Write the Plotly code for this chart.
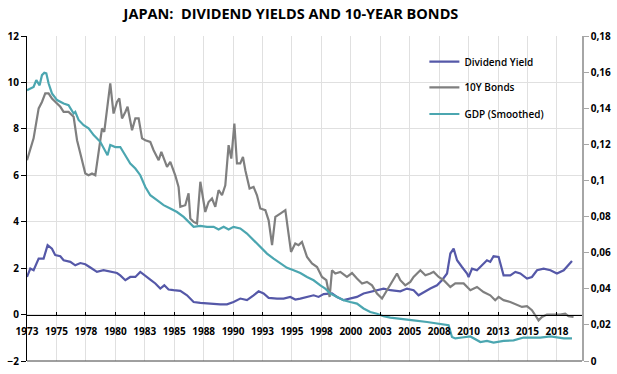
import plotly.graph_objects as go

# ---- data ----
div_year = [1973.00, 1973.28, 1973.56, 1973.99, 1974.41, 1974.75, 1975.12, 1975.40, 1975.83, 1976.11,
            1976.68, 1977.10, 1977.53, 1977.95, 1978.38, 1978.94, 1979.50, 1980.07, 1980.64, 1980.92,
            1981.35, 1981.77, 1982.20, 1982.62, 1983.05, 1983.47, 1983.90, 1984.32, 1984.66, 1985.02,
            1985.45, 1986.02, 1986.59, 1987.15, 1987.72, 1988.29, 1988.85, 1989.41, 1989.98, 1990.54,
            1991.11, 1991.68, 1992.24, 1992.67, 1993.09, 1993.52, 1994.23, 1994.79, 1995.36, 1995.78,
            1996.21, 1996.78, 1997.34, 1997.76, 1998.19, 1998.90, 1999.32, 1999.89, 2000.45, 2001.02,
            2001.58, 2002.15, 2002.72, 2003.28, 2003.85, 2004.70, 2005.27, 2005.83, 2006.25, 2006.68,
            2007.25, 2007.82, 2008.24, 2008.67, 2008.95, 2009.23, 2009.52, 2009.94, 2010.37, 2010.50,
            2010.79, 2011.21, 2011.64, 2012.06, 2012.34, 2012.62, 2013.05, 2013.47, 2014.04, 2014.47,
            2014.89, 2015.46, 2015.88, 2016.31, 2016.87, 2017.45, 2018.00, 2018.58, 2019.28]
div_yield = [1.62, 1.98, 1.91, 2.41, 2.41, 2.99, 2.84, 2.56, 2.51, 2.34,
             2.27, 2.12, 2.22, 2.17, 2.03, 1.84, 1.91, 1.84, 1.79, 1.69,
             1.48, 1.62, 1.62, 1.84, 1.69, 1.51, 1.34, 1.12, 1.26, 1.08,
             1.05, 1.02, 0.83, 0.54, 0.50, 0.47, 0.47, 0.44, 0.44, 0.54,
             0.69, 0.62, 0.83, 1.00, 0.91, 0.72, 0.69, 0.69, 0.76, 0.65,
             0.69, 0.76, 0.83, 0.76, 0.88, 0.91, 0.76, 0.62, 0.69, 0.76,
             0.91, 0.97, 1.05, 1.12, 1.05, 1.00, 1.12, 1.05, 0.83, 0.97,
             1.12, 1.26, 1.48, 1.77, 2.63, 2.84, 2.34, 2.05, 1.77, 1.62,
             1.98, 1.91, 2.12, 2.34, 2.27, 2.51, 2.48, 1.69, 1.69, 1.84,
             1.77, 1.55, 1.62, 1.91, 1.98, 1.91, 1.77, 1.91, 2.31]

bond_year = [1973.00, 1973.56, 1973.99, 1974.27, 1974.55, 1974.83, 1975.12, 1975.40, 1975.83, 1976.11,
             1976.53, 1976.96, 1977.25, 1977.53, 1977.95, 1978.23, 1978.52, 1978.80, 1979.08, 1979.37,
             1979.56, 1979.79, 1980.07, 1980.35, 1980.64, 1980.84, 1981.07, 1981.35, 1981.54, 1981.92,
             1982.20, 1982.48, 1982.77, 1983.05, 1983.47, 1983.75, 1984.18, 1984.41, 1984.89, 1985.17,
             1985.59, 1985.87, 1986.02, 1986.44, 1986.72, 1986.87, 1987.15, 1987.44, 1987.72, 1988.14,
             1988.42, 1988.71, 1988.99, 1989.27, 1989.56, 1989.84, 1990.12, 1990.35, 1990.61, 1990.83,
             1991.11, 1991.34, 1991.54, 1991.90, 1992.24, 1992.53, 1992.81, 1993.24, 1993.52, 1993.81,
             1994.09, 1994.51, 1994.94, 1995.13, 1995.42, 1995.78, 1996.06, 1996.35, 1996.78, 1997.20,
             1997.63, 1998.05, 1998.42, 1998.70, 1998.90, 1999.18, 1999.61, 2000.17, 2000.60, 2001.02,
             2001.45, 2001.87, 2002.30, 2002.72, 2003.15, 2003.57, 2004.00, 2004.42, 2004.70, 2005.12,
             2005.55, 2005.83, 2006.40, 2006.83, 2007.25, 2007.53, 2007.96, 2008.38, 2008.95, 2009.37,
             2010.08, 2010.65, 2011.21, 2011.77, 2012.34, 2012.76, 2013.05, 2013.47, 2014.04, 2014.61,
             2015.03, 2015.46, 2015.88, 2016.16, 2016.44, 2016.73, 2017.15, 2017.71, 2018.28, 2018.70,
             2018.98, 2019.41]
bond_10y = [6.65, 7.59, 8.88, 9.16, 9.53, 9.53, 9.31, 9.16, 8.95, 8.73,
            8.73, 8.52, 7.51, 6.94, 6.08, 6.00, 6.08, 6.00, 7.01, 8.02,
            7.87, 8.73, 9.96, 8.66, 9.16, 9.31, 8.45, 8.73, 8.95, 7.94,
            8.45, 8.45, 7.59, 7.51, 7.44, 7.08, 6.65, 7.01, 6.36, 6.58,
            6.00, 5.50, 4.64, 4.71, 5.22, 4.14, 3.99, 3.92, 5.72, 4.42,
            4.85, 5.00, 4.64, 5.36, 5.14, 5.57, 7.30, 6.72, 8.23, 6.51,
            6.51, 6.79, 6.22, 5.43, 5.50, 5.14, 4.57, 4.50, 4.06, 2.99,
            4.21, 4.35, 4.50, 3.78, 2.70, 3.06, 2.99, 3.13, 2.48, 2.20,
            2.05, 1.62, 1.48, 0.76, 1.91, 1.77, 1.84, 1.62, 1.79, 1.55,
            1.34, 1.41, 1.26, 0.91, 0.69, 1.05, 1.41, 1.77, 1.48, 1.26,
            1.41, 1.62, 1.91, 1.69, 1.77, 1.84, 1.62, 1.48, 1.19, 1.34,
            1.34, 1.05, 1.19, 0.97, 0.83, 0.62, 0.76, 0.62, 0.54, 0.40,
            0.33, 0.36, 0.19, -0.03, -0.25, -0.10, 0.00, 0.00, 0.00, 0.04,
            -0.07, -0.10]

gdp_year = [1973.00, 1973.28, 1973.56, 1973.79, 1974.07, 1974.27, 1974.47, 1974.64, 1974.83, 1975.12,
            1975.55, 1976.11, 1976.53, 1976.96, 1977.10, 1977.38, 1977.81, 1978.23, 1978.66, 1979.22,
            1979.65, 1979.84, 1980.07, 1980.50, 1980.92, 1981.35, 1981.77, 1982.20, 1982.62, 1983.05,
            1983.47, 1984.04, 1984.60, 1985.17, 1985.74, 1986.30, 1986.72, 1987.15, 1987.72, 1988.29,
            1988.85, 1989.27, 1989.70, 1990.12, 1990.54, 1991.11, 1991.68, 1992.24, 1992.81, 1993.38,
            1993.94, 1994.51, 1995.08, 1995.64, 1996.21, 1996.78, 1997.34, 1997.91, 1998.33, 1998.76,
            1999.32, 1999.89, 2000.45, 2001.02, 2001.58, 2002.15, 2002.72, 2003.28, 2003.85, 2004.70,
            2005.83, 2006.97, 2007.53, 2008.10, 2008.80, 2009.09, 2009.37, 2009.94, 2010.65, 2011.50,
            2012.06, 2012.62, 2013.47, 2014.32, 2015.17, 2015.74, 2016.59, 2017.45, 2018.00, 2018.58,
            2019.28]
gdp_smoothed = [0.1500, 0.1509, 0.1518, 0.1556, 0.1527, 0.1583, 0.1596, 0.1593, 0.1538, 0.1482,
                0.1445, 0.1426, 0.1417, 0.1371, 0.1380, 0.1335, 0.1306, 0.1288, 0.1251, 0.1214,
                0.1167, 0.1140, 0.1196, 0.1185, 0.1185, 0.1140, 0.1094, 0.1066, 0.1029, 0.0964,
                0.0918, 0.0891, 0.0863, 0.0845, 0.0825, 0.0798, 0.0770, 0.0743, 0.0748, 0.0743,
                0.0743, 0.0728, 0.0743, 0.0728, 0.0743, 0.0734, 0.0706, 0.0669, 0.0631, 0.0595,
                0.0567, 0.0540, 0.0516, 0.0503, 0.0487, 0.0465, 0.0447, 0.0419, 0.0401, 0.0374,
                0.0355, 0.0337, 0.0327, 0.0318, 0.0291, 0.0271, 0.0262, 0.0248, 0.0240, 0.0235,
                0.0225, 0.0216, 0.0211, 0.0203, 0.0198, 0.0133, 0.0125, 0.0130, 0.0136, 0.0105,
                0.0111, 0.0102, 0.0111, 0.0114, 0.0130, 0.0130, 0.0130, 0.0136, 0.0132, 0.0125,
                0.0125]

x_tick_vals = [1973 + 2.5 * k for k in range(19)]
x_tick_text = ["1973", "1975", "1978", "1980", "1983", "1985", "1988", "1990", "1993", "1995",
               "1998", "2000", "2003", "2005", "2008", "2010", "2013", "2015", "2018"]
y2_tick_vals = [0, 0.02, 0.04, 0.06, 0.08, 0.10, 0.12, 0.14, 0.16, 0.18]
y2_tick_text = ["0", "0,02", "0,04", "0,06", "0,08", "0,1", "0,12", "0,14", "0,16", "0,18"]

FONT = "Open Sans"
tickfont = dict(family=FONT, size=10, color="#000000", weight="bold")

fig = go.Figure()
fig.add_trace(go.Scatter(x=div_year, y=div_yield, name="Dividend Yield", mode="lines",
                         line=dict(color="#5558A8", width=2.2), legend="legend"))
fig.add_trace(go.Scatter(x=bond_year, y=bond_10y, name="10Y Bonds", mode="lines",
                         line=dict(color="#7F7F7F", width=2.2), legend="legend2"))
fig.add_trace(go.Scatter(x=gdp_year, y=gdp_smoothed, name="GDP (Smoothed)", mode="lines",
                         line=dict(color="#4BA6B0", width=2.2), yaxis="y2", legend="legend3"))

legfont = dict(family=FONT, size=10, color="#000000", weight=600)
def leg(y):
    return dict(x=0.716, y=y, xanchor="left", yanchor="middle", bgcolor="rgba(0,0,0,0)",
                font=legfont, borderwidth=0)

fig.update_layout(
    width=617, height=374,
    margin=dict(l=27, r=35, t=36, b=13, autoexpand=False),
    paper_bgcolor="white", plot_bgcolor="white",
    title=dict(text="JAPAN:  DIVIDEND YIELDS AND 10-YEAR BONDS", x=0.4716, xref="container",
               xanchor="center", y=0.9626, yref="container", yanchor="middle",
               font=dict(family=FONT, size=14.5, color="#000000", weight="bold")),
    showlegend=True,
    legend=leg(0.921), legend2=leg(0.842), legend3=leg(0.760),
    xaxis=dict(range=[1973, 2020.13], tickvals=x_tick_vals, ticktext=x_tick_text,
               anchor="free", position=2 / 14, showline=True, linecolor="#000000", linewidth=1,
               ticks="inside", ticklen=3, tickcolor="#000000", ticklabelstandoff=7,
               showgrid=True, gridcolor="#E0E0E0", gridwidth=1, zeroline=False,
               tickfont=tickfont, automargin=False),
    yaxis=dict(range=[-2, 12], dtick=2, tick0=0, showline=True, linecolor="#000000", linewidth=1,
               ticks="outside", ticklen=5, tickcolor="#000000", showgrid=True,
               gridcolor="#E0E0E0", zeroline=False, tickfont=tickfont, automargin=False),
    yaxis2=dict(range=[0, 0.18], overlaying="y", side="right", tickvals=y2_tick_vals,
                ticktext=y2_tick_text, showline=True, linecolor="#A6A6A6", linewidth=1.5,
                ticks="outside", ticklen=5, tickcolor="#A6A6A6", showgrid=False, zeroline=False,
                tickfont=tickfont, automargin=False),
    shapes=[dict(type="line", xref="paper", yref="paper", x0=0, x1=1, y0=0, y1=0,
                 line=dict(color="#404040", width=1))],
)

# remove the browser's default 8px page margin so the 617x374 figure fills the window
fig.write_html("out.html", config={"displayModeBar": False},
               post_script="document.body.style.margin='0';")
